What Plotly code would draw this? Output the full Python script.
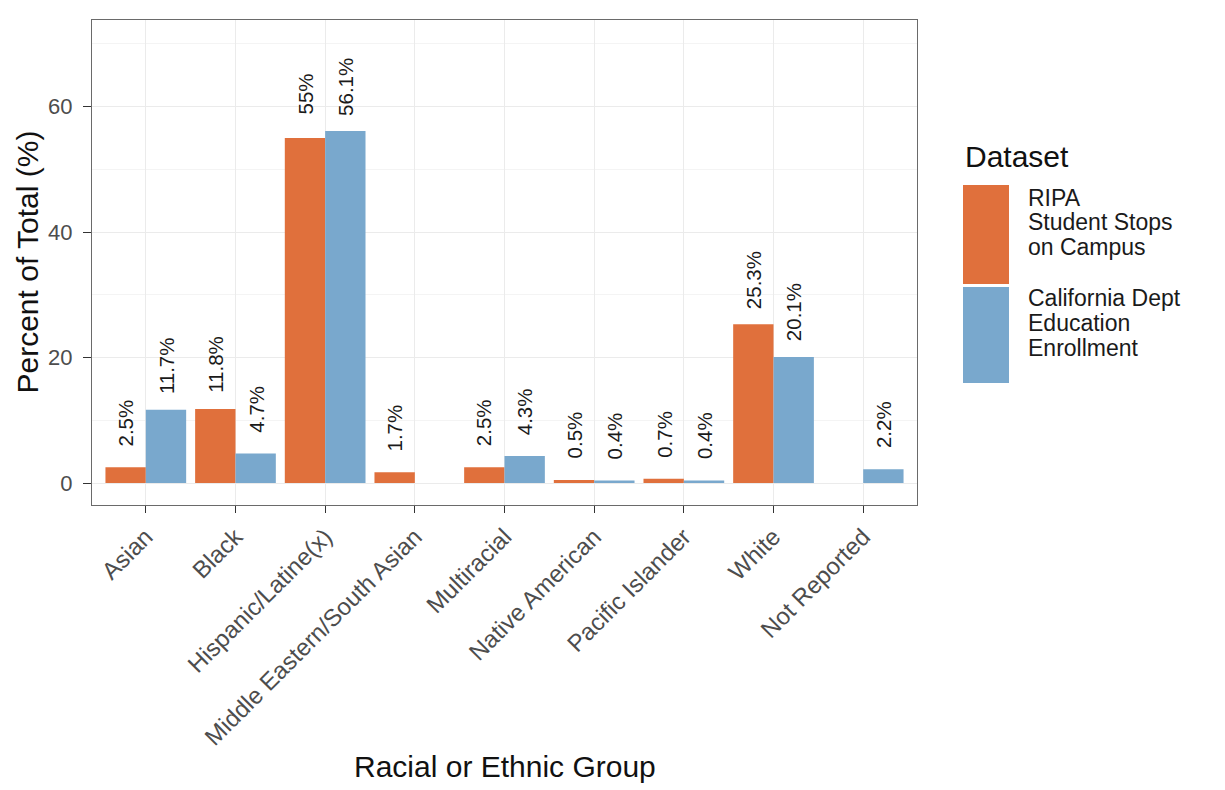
import plotly.graph_objects as go

categories = ["Asian", "Black", "Hispanic/Latine(x)", "Middle Eastern/South Asian",
              "Multiracial", "Native American", "Pacific Islander", "White", "Not Reported"]
ripa_values = [2.5, 11.8, 55.0, 1.7, 2.5, 0.5, 0.7, 25.3, None]
cde_values = [11.7, 4.7, 56.1, None, 4.3, 0.4, 0.4, 20.1, 2.2]
legend_lines = [["RIPA", "Student Stops", "on Campus"], ["California Dept", "Education", "Enrollment"]]
y_ticks = [0, 20, 40, 60]

COL_ORANGE = "#E0703C"
COL_BLUE = "#79A8CD"
FONT = "Liberation Sans, Arial, sans-serif"

OFF = 8  # page body margin in the browser
W, H = 1225 - OFF, 790 - OFF
# target screen positions of the panel
P_LEFT, P_RIGHT, P_TOP, P_BOTTOM = 92, 917, 20, 505
ML = P_LEFT - OFF
MT = P_TOP - OFF
MR = W - (P_RIGHT - OFF)
MB = H - (P_BOTTOM - OFF)
PW = P_RIGHT - P_LEFT
PH = P_BOTTOM - P_TOP


def px_x(p):
    return (p - P_LEFT) / PW


def px_y(p):
    return (P_BOTTOM - p) / PH


x_idx = list(range(len(categories)))

fig = go.Figure()
fig.add_trace(go.Bar(x=x_idx, y=ripa_values, name="RIPA", marker_color=COL_ORANGE,
                     marker_line_width=0, showlegend=False))
fig.add_trace(go.Bar(x=x_idx, y=cde_values, name="CDE", marker_color=COL_BLUE,
                     marker_line_width=0, showlegend=False))

annotations = []
half = 0.225
for vals, off in ((ripa_values, -half), (cde_values, half)):
    for i, v in enumerate(vals):
        if v is None:
            continue
        annotations.append(dict(
            x=i + off, y=v, xref="x", yref="y", text=f"{v:g}%", showarrow=False,
            textangle=-90, xanchor="center", yanchor="middle", yshift=44.5,
            font=dict(family=FONT, size=20.5, color="#1a1a1a")))

# axis titles
annotations.append(dict(x=px_x(27), y=0.5, xref="paper", yref="paper",
                        text="Percent of Total (%)", textangle=-90, showarrow=False,
                        xanchor="center", yanchor="middle",
                        font=dict(family=FONT, size=30, color="#111111")))
annotations.append(dict(x=0.5, y=px_y(767), xref="paper", yref="paper",
                        text="Racial or Ethnic Group", showarrow=False,
                        xanchor="center", yanchor="middle",
                        font=dict(family=FONT, size=30, color="#111111")))

# legend (manual, ggplot style tall keys)
annotations.append(dict(x=px_x(963), y=px_y(156), xref="paper", yref="paper",
                        text="Dataset", showarrow=False, xanchor="left", yanchor="middle",
                        font=dict(family=FONT, size=30, color="#111111")))
shapes = []
key_boxes = [(185, 284, COL_ORANGE), (287, 383, COL_BLUE)]
line_y = [[198, 222.5, 247], [298, 323, 348]]
for (y0, y1, col), lines, ys in zip(key_boxes, legend_lines, line_y):
    shapes.append(dict(type="rect", xref="paper", yref="paper",
                       x0=px_x(963), x1=px_x(1009), y0=px_y(y1), y1=px_y(y0),
                       fillcolor=col, line=dict(width=0)))
    for t, yy in zip(lines, ys):
        annotations.append(dict(x=px_x(1026), y=px_y(yy), xref="paper", yref="paper",
                                text=t, showarrow=False, xanchor="left", yanchor="middle",
                                font=dict(family=FONT, size=23, color="#1a1a1a")))

# faint vertical rule at right edge of the image
shapes.append(dict(type="rect", xref="paper", yref="paper", layer="above",
                   x0=px_x(1218), x1=px_x(1220), y0=px_y(OFF + 2), y1=px_y(787),
                   fillcolor="#cfcfcf", line=dict(width=0)))

fig.update_layout(
    width=W, height=H,
    margin=dict(l=ML, r=MR, t=MT, b=MB, autoexpand=False),
    paper_bgcolor="white", plot_bgcolor="white",
    barmode="group", bargap=0.1, bargroupgap=0,
    showlegend=False,
    annotations=annotations, shapes=shapes,
    font=dict(family=FONT),
)
fig.update_xaxes(
    range=[-0.6, 8.6], tickmode="array", tickvals=x_idx, ticktext=categories,
    tickangle=-45, ticks="outside", ticklen=7, tickcolor="#333333", tickwidth=1.3,
    tickfont=dict(family=FONT, size=24, color="#4D4D4D"),
    showgrid=True, gridcolor="#EBEBEB", gridwidth=1,
    showline=True, mirror=True, linecolor="#6a6a6a", linewidth=1.4,
    zeroline=False,
)
fig.update_yaxes(
    range=[-3.5, 73.8], tickmode="array", tickvals=y_ticks,
    ticks="outside", ticklen=8, tickcolor="#333333", tickwidth=1.3,
    ticklabelstandoff=6,
    tickfont=dict(family=FONT, size=22, color="#4D4D4D"),
    showgrid=True, gridcolor="#EBEBEB", gridwidth=1,
    minor=dict(tickmode="array", tickvals=[10, 30, 50, 70], showgrid=True,
               gridcolor="#F4F4F4", gridwidth=0.8, ticks=""),
    showline=True, mirror=True, linecolor="#6a6a6a", linewidth=1.4,
    zeroline=False,
)

fig.write_html("out.html")
